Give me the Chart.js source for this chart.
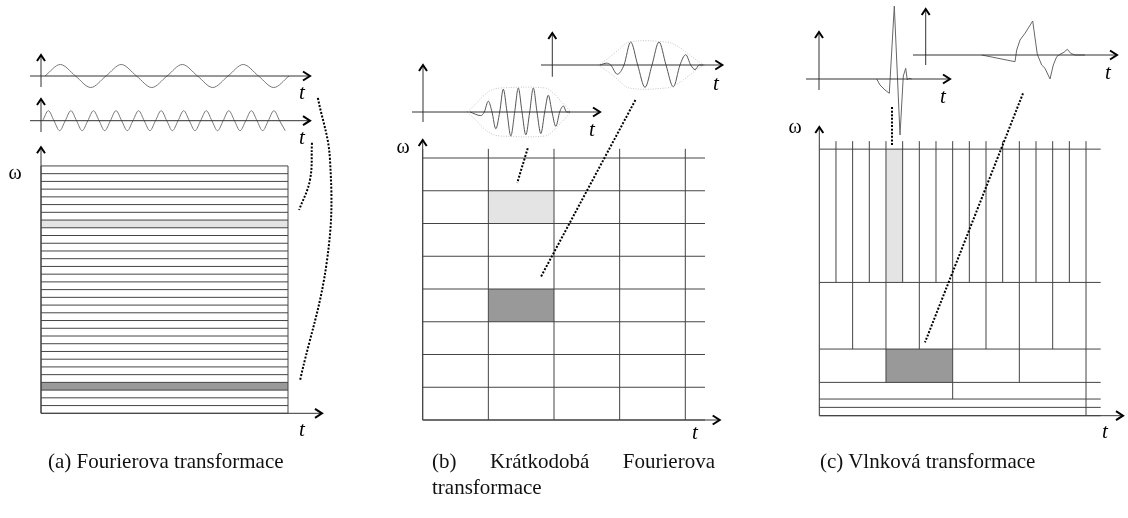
<!DOCTYPE html>
<html>
<head>
<meta charset="utf-8">
<script src="https://cdn.jsdelivr.net/npm/chart.js@4.4.1/dist/chart.umd.min.js"></script>
<style>
    html, body { margin: 0; padding: 0; background: #fff; }
    #wrap { position: relative; width: 1128px; height: 518px; overflow: hidden; }
    #wrap canvas { position: absolute; left: 0; top: 0; }
    .lbl { position: absolute; font-family: 'Liberation Serif', serif; color: #000; line-height: 1; white-space: nowrap; transform: translate(-50%, -50%); }
    .t { font-style: italic; font-size: 21px; }
    .w { font-size: 20px; }
    .cap { position: absolute; top: 448px; font-family: 'Liberation Serif', serif; font-size: 21px; line-height: 26px; color: #111; }
</style>
</head>
<body>
<div id="wrap">
    <canvas id="tiles" width="1128" height="518"></canvas>

    <span class="lbl w" style="left:15px; top:172px;">ω</span>
    <span class="lbl t" style="left:302px; top:92px;">t</span>
    <span class="lbl t" style="left:302px; top:137px;">t</span>
    <span class="lbl t" style="left:302px; top:429px;">t</span>

    <span class="lbl w" style="left:403px; top:146px;">ω</span>
    <span class="lbl t" style="left:592px; top:129px;">t</span>
    <span class="lbl t" style="left:716px; top:83px;">t</span>
    <span class="lbl t" style="left:695px; top:432px;">t</span>

    <span class="lbl w" style="left:795px; top:126px;">ω</span>
    <span class="lbl t" style="left:943px; top:96px;">t</span>
    <span class="lbl t" style="left:1108px; top:72px;">t</span>
    <span class="lbl t" style="left:1105px; top:431px;">t</span>

    <div class="cap" style="left:48px;">(a) Fourierova transformace</div>
    <div class="cap" style="left:432px; width:283px; text-align:justify;">(b) Krátkodobá Fourierova transformace</div>
    <div class="cap" style="left:820px;">(c) Vlnková transformace</div>
</div>

<script>
// ---------- (a) Fourierova transformace ----------
const fourierStrips = 32;               // stejne siroke frekvencni pasy pres cely cas
const fourierLightStrip = 24;           // index pasu odspodu
const fourierDarkStrip = 3;
// hodnoty ve ctvrtperiodach
const slowWave = [0, 1, 0, -1, 0, 1, 0, -1, 0, 1, 0, -1, 0, 1, 0, -1, 0];
const fastWave = [0, 1, 0, -1, 0, 1, 0, -1, 0, 1, 0, -1, 0, 1, 0, -1,
                  0, 1, 0, -1, 0, 1, 0, -1, 0, 1, 0, -1, 0, 1, 0, -1,
                  0, 1, 0, -1, 0, 1, 0, -1, 0, 1, 0, -1];
const fourierConnLongT = [1.121, 1.17, 1.158, 1.049];
const fourierConnLongF = [40.8, 32.8, 19.8, 4.3];
const fourierConnShortT = [1.097, 1.089, 1.045];
const fourierConnShortF = [35, 30.2, 26.3];

// ---------- (b) Kratkodoba Fourierova transformace ----------
const stftTimeEdges = [0, 1, 2, 3, 4];
const stftFreqEdges = [0, 1, 2, 3, 4, 5, 6, 7, 8];
const stftTimeSpan = 4.3;
const stftLightCell = [1, 6];           // [sloupec, radek odspodu]
const stftDarkCell = [1, 3];
const packetNarrowT = [47, 57.8, 61.3, 65.3, 69, 72.8, 76.7, 80.3, 84, 87.8, 91.7, 95.3, 99,
                       102.8, 106.7, 110.3, 114, 117.8, 121.7, 125.3, 129, 132.8, 136.7, 140.3, 143.7, 147];
const packetNarrowV = [0, -0.15, 0, 0.45, 0, -0.7, 0, 0.95, 0, -1, 0, 1, 0,
                       -0.95, 0, 1, 0, -0.9, 0, 0.7, 0, -0.6, 0, 0.25, 0, 0];
const envNarrowT = [44, 52, 60, 68, 78, 122, 130, 138, 148];
const envNarrowV = [0, 0.3, 0.65, 0.9, 1, 1, 0.8, 0.45, 0];
const packetWideT = [47.7, 54.4, 58.4, 65, 71.7, 78.4, 85.4, 92.7, 99.7, 106.7, 113.7, 121, 127.7,
                     133.4, 138.4, 142.7, 147, 151];
const packetWideV = [0, 0.08, 0, -0.4, 0, 1, 0, -0.97, 0, 1, 0, -0.95, 0, 0.45, 0, -0.2, 0, 0];
const envWideT = [46, 56, 66, 77, 114, 124, 134, 143, 152];
const envWideV = [0, 0.3, 0.65, 1, 1, 0.85, 0.55, 0.25, 0];
const stftConnShortT = [1.6, 1.44];
const stftConnShortF = [8.3, 7.24];
const stftConnLongT = [3.24, 1.8];
const stftConnLongF = [9.77, 4.37];

// ---------- (c) Vlnkova transformace ----------
const waveletFreqEdges = [0, 1, 2, 4, 8, 16, 32];
const waveletCols = [1, 1, 2, 4, 8, 16];
const waveletSpan = 16;
const waveletLightCell = [4, 5, 16, 32];   // t0, t1, f0, f1
const waveletDarkCell = [4, 8, 4, 8];
const narrowWaveletT = [57.7, 61, 66, 70.3, 75.3, 81, 84.3, 86.7, 88.3, 90, 92.7];
const narrowWaveletV = [0, -6, -11, -14.3, 73, -56, 3, 10.7, -1, 0.7, 0];
const wideWaveletT = [56, 89.3, 91, 94.3, 99.3, 107, 111.6, 116, 119.3, 124.3, 127.6,
                      131, 134.3, 138.3, 141.6, 145, 149.3, 159.3];
const wideWaveletV = [0, -6.7, 5, 15, 21.7, 34, 0.7, -10, -13.3, -24, -10,
                      -1.7, 0.7, 2.7, 5.7, 1.7, 0, 0];
const waveletConnShortT = [4.36, 4.36];
const waveletConnShortF = [37.05, 32.4];
const waveletConnLongT = [12.22, 6.34];
const waveletConnLongF = [38.7, 8.8];

// ---------- rozmisteni (pixely stranky) ----------
const W = 1128, H = 518;
const frames = {
    a:  { ox: 41,    oy: 413.3, sx: 247,   sy: 7.73 },
    a1: { ox: 45,    oy: 76,    sx: 15.25, sy: 11.5 },
    a2: { ox: 42.7,  oy: 120.7, sx: 5.64,  sy: 10 },
    b:  { ox: 422.7, oy: 420,   sx: 65.65, sy: 32.75 },
    b1: { ox: 423,   oy: 112,   sx: 1,     sy: 24 },
    b2: { ox: 552.3, oy: 65,    sx: 1,     sy: 23 },
    c:  { ox: 819.3, oy: 415.7, sx: 16.67, sy: 8.33 },
    c1: { ox: 819,   oy: 79,    sx: 1,     sy: 1 },
    c2: { ox: 925.7, oy: 55,    sx: 1,     sy: 1 }
};
// osy se sipkami: pocatek + delky ramen v px
const axes = [
    { x: 41,    y: 413.3, up: 266,   down: 0,    left: 0,    right: 281 },
    { x: 41,    y: 76,    up: 21,    down: 11,   left: 11,   right: 269 },
    { x: 41,    y: 120.7, up: 21.7,  down: 11.3, left: 11,   right: 269 },
    { x: 422.7, y: 420,   up: 280,   down: 0,    left: 0,    right: 297 },
    { x: 423,   y: 112,   up: 47,    down: 10,   left: 11,   right: 177 },
    { x: 552.3, y: 65,    up: 32,    down: 11.7, left: 11.3, right: 170 },
    { x: 819.3, y: 415.7, up: 288.7, down: 0,    left: 0,    right: 303.7 },
    { x: 819,   y: 79,    up: 47,    down: 11,   left: 13,   right: 131 },
    { x: 925.7, y: 55,    up: 46,    down: 10,   left: 12.7, right: 191.3 }
];

const P = (f, u, v) => ({ x: f.ox + u * f.sx, y: f.oy - v * f.sy });
const gap = (p) => ({ x: p.x, y: null });
const segs = (pairs) => pairs.flatMap(([p, q]) => [p, q, gap(q)]);

// mrizky
const gridPairs = [];
const fa = frames.a, fb = frames.b, fc = frames.c;
for (let k = 0; k <= fourierStrips; k++) gridPairs.push([P(fa, 0, k), P(fa, 1, k)]);
gridPairs.push([P(fa, 0, 0), P(fa, 0, fourierStrips)], [P(fa, 1, 0), P(fa, 1, fourierStrips)]);

const stftTop = stftFreqEdges[stftFreqEdges.length - 1];
stftFreqEdges.forEach(f => gridPairs.push([P(fb, 0, f), P(fb, stftTimeSpan, f)]));
stftTimeEdges.forEach(t => gridPairs.push([P(fb, t, 0), P(fb, t, stftTop + 0.28)]));

const wTop = waveletFreqEdges[waveletFreqEdges.length - 1];
waveletFreqEdges.forEach(f => gridPairs.push([P(fc, 0, f), P(fc, waveletSpan + 0.88, f)]));
waveletCols.forEach((n, i) => {
    const f0 = waveletFreqEdges[i], f1 = waveletFreqEdges[i + 1];
    const top = f1 === wTop ? f1 + 0.96 : f1;
    for (let j = 1; j < n; j++) gridPairs.push([P(fc, j * waveletSpan / n, f0), P(fc, j * waveletSpan / n, top)]);
});
gridPairs.push([P(fc, waveletSpan, 0), P(fc, waveletSpan, wTop + 0.96)]);

// osy
const axisPairs = [];
axes.forEach(a => {
    axisPairs.push([{ x: a.x, y: a.y + a.down }, { x: a.x, y: a.y - a.up }]);
    axisPairs.push([{ x: a.x - a.left, y: a.y }, { x: a.x + a.right, y: a.y }]);
});

// vyplnene bunky
function cell(f, t0, t1, v0, v1, color) {
    const top = P(f, t0, v1), topR = P(f, t1, v1), bottom = P(f, t0, v0);
    return {
        data: [top, topR], fill: { value: bottom.y }, backgroundColor: color,
        borderWidth: 0, pointRadius: 0, order: 5
    };
}

function line(points, opts) {
    return Object.assign({ data: points, borderColor: '#444', borderWidth: 1, pointRadius: 0,
                           fill: false, tension: 0, order: 2 }, opts);
}

const mirror = (arr) => arr.map(v => -v);
const curve = (f, ts, vs) => ts.map((t, i) => P(f, t, vs[i]));
const dotted = { borderColor: '#000', borderWidth: 2, borderDash: [2, 1.6], order: 1 };

const datasets = [
    cell(fa, 0, 1, fourierLightStrip, fourierLightStrip + 1, '#e4e4e4'),
    cell(fa, 0, 1, fourierDarkStrip, fourierDarkStrip + 1, '#999999'),
    cell(fb, stftLightCell[0], stftLightCell[0] + 1, stftLightCell[1], stftLightCell[1] + 1, '#e4e4e4'),
    cell(fb, stftDarkCell[0], stftDarkCell[0] + 1, stftDarkCell[1], stftDarkCell[1] + 1, '#999999'),
    cell(fc, waveletLightCell[0], waveletLightCell[1], waveletLightCell[2], waveletLightCell[3], '#e4e4e4'),
    cell(fc, waveletDarkCell[0], waveletDarkCell[1], waveletDarkCell[2], waveletDarkCell[3], '#999999'),

    line(segs(gridPairs), { borderColor: '#444' }),
    line(segs(axisPairs), { borderColor: '#333' }),

    // signaly
    line(slowWave.map((v, i) => P(frames.a1, i, v)), { borderColor: '#777', cubicInterpolationMode: 'monotone' }),
    line(fastWave.map((v, i) => P(frames.a2, i, v)), { borderColor: '#777', cubicInterpolationMode: 'monotone' }),
    line(curve(frames.b1, envNarrowT, envNarrowV), { borderColor: '#c4c4c4', borderDash: [1, 1.5], tension: 0.4 }),
    line(curve(frames.b1, envNarrowT, mirror(envNarrowV)), { borderColor: '#c4c4c4', borderDash: [1, 1.5], tension: 0.4 }),
    line(curve(frames.b2, envWideT, envWideV), { borderColor: '#c4c4c4', borderDash: [1, 1.5], tension: 0.4 }),
    line(curve(frames.b2, envWideT, mirror(envWideV)), { borderColor: '#c4c4c4', borderDash: [1, 1.5], tension: 0.4 }),
    line(curve(frames.b1, packetNarrowT, packetNarrowV), { borderColor: '#555', cubicInterpolationMode: 'monotone' }),
    line(curve(frames.b2, packetWideT, packetWideV), { borderColor: '#555', cubicInterpolationMode: 'monotone' }),
    line(curve(frames.c1, narrowWaveletT, narrowWaveletV), { borderColor: '#666' }),
    line(curve(frames.c2, wideWaveletT, wideWaveletV), { borderColor: '#666' }),

    // teckovane spojnice
    line(curve(fa, fourierConnLongT, fourierConnLongF), Object.assign({ tension: 0.4 }, dotted)),
    line(curve(fa, fourierConnShortT, fourierConnShortF), Object.assign({ tension: 0.4 }, dotted)),
    line(curve(fb, stftConnShortT, stftConnShortF), dotted),
    line(curve(fb, stftConnLongT, stftConnLongF), dotted),
    line(curve(fc, waveletConnShortT, waveletConnShortF), dotted),
    line(curve(fc, waveletConnLongT, waveletConnLongF), dotted)
];

// hroty sipek
const arrowPlugin = {
    id: 'arrowHeads',
    afterDatasetsDraw(chart) {
        const { ctx, scales: { x, y } } = chart;
        ctx.save();
        ctx.strokeStyle = '#000';
        ctx.lineWidth = 2;
        ctx.lineJoin = 'miter';
        axes.forEach(a => {
            const vx = x.getPixelForValue(a.x), vy = y.getPixelForValue(a.y - a.up);
            ctx.beginPath();
            ctx.moveTo(vx - 4, vy + 6); ctx.lineTo(vx, vy); ctx.lineTo(vx + 4, vy + 6);
            ctx.stroke();
            const hx = x.getPixelForValue(a.x + a.right), hy = y.getPixelForValue(a.y);
            ctx.beginPath();
            ctx.moveTo(hx - 7, hy - 4.5); ctx.lineTo(hx, hy); ctx.lineTo(hx - 7, hy + 4.5);
            ctx.stroke();
        });
        ctx.restore();
    }
};

new Chart(document.getElementById('tiles'), {
    type: 'line',
    data: { datasets: datasets },
    options: {
        responsive: false,
        animation: false,
        events: [],
        layout: { padding: 0 },
        plugins: { legend: { display: false }, tooltip: { enabled: false } },
        scales: {
            x: { type: 'linear', min: 0, max: W, display: false },
            y: { type: 'linear', min: 0, max: H, reverse: true, display: false }
        }
    },
    plugins: [arrowPlugin]
});
</script>
</body>
</html>
